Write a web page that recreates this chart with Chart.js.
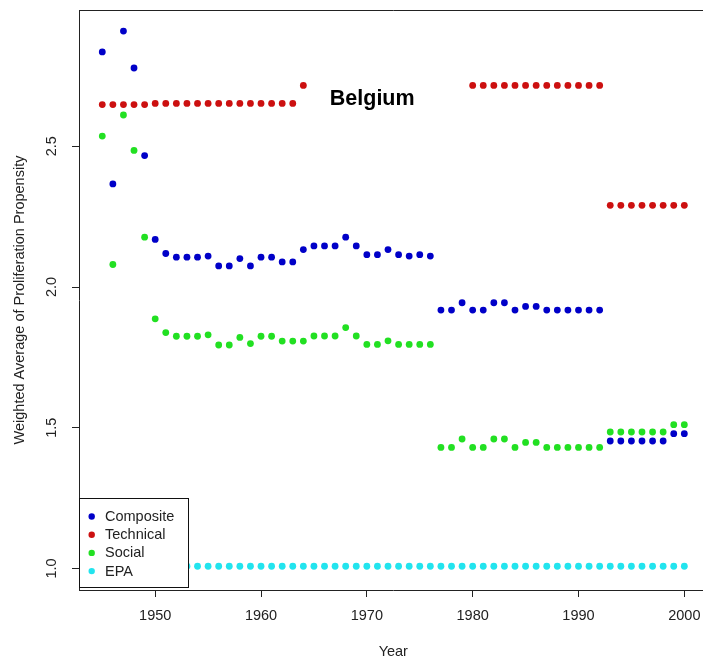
<!DOCTYPE html>
<html>
<head>
<meta charset="utf-8">
<script src="https://cdn.jsdelivr.net/npm/chart.js@4/dist/chart.umd.min.js"></script>
<style>
html,body{margin:0;padding:0;background:#fff;overflow:hidden;width:703px;height:659px;}
#wrap{position:relative;width:711px;height:659px;}
</style>
</head>
<body>
<div id="wrap"><canvas id="c"></canvas></div>
<script>
// ---- data ----
const years = [];
for (let y = 1945; y <= 2000; y++) years.push(y);

const composite = [
  2.835, 2.366, 2.909, 2.778, 2.467,            // 1945-1949
  2.169, 2.119, 2.106, 2.106, 2.106, 2.110, 2.075, 2.075, 2.101, 2.075, // 1950-1959
  2.106, 2.106, 2.089, 2.089, 2.133, 2.146, 2.146, 2.146, 2.177, 2.146, // 1960-1969
  2.115, 2.115, 2.133, 2.115, 2.110, 2.115, 2.110, 1.918, 1.918, 1.944, // 1970-1979
  1.918, 1.918, 1.944, 1.944, 1.918, 1.931, 1.931, 1.918, 1.918, 1.918, // 1980-1989
  1.918, 1.918, 1.918, 1.453, 1.453, 1.453, 1.453, 1.453, 1.453, 1.479, // 1990-1999
  1.479                                          // 2000
];
const technical = [
  2.648, 2.648, 2.648, 2.648, 2.648,
  2.652, 2.652, 2.652, 2.652, 2.652, 2.652, 2.652, 2.652, 2.652, 2.652,
  2.652, 2.652, 2.652, 2.652, 2.716, null, null, null, null, null,
  null, null, null, null, null, null, null, null, null, null,
  2.716, 2.716, 2.716, 2.716, 2.716, 2.716, 2.716, 2.716, 2.716, 2.716,
  2.716, 2.716, 2.716, 2.290, 2.290, 2.290, 2.290, 2.290, 2.290, 2.290,
  2.290
];
const social = [
  2.536, 2.080, 2.611, 2.485, 2.177,
  1.887, 1.838, 1.825, 1.825, 1.825, 1.830, 1.794, 1.794, 1.821, 1.799,
  1.825, 1.825, 1.808, 1.808, 1.808, 1.826, 1.826, 1.826, 1.856, 1.826,
  1.796, 1.796, 1.809, 1.796, 1.796, 1.796, 1.796, 1.430, 1.430, 1.460,
  1.430, 1.430, 1.460, 1.460, 1.430, 1.448, 1.448, 1.430, 1.430, 1.430,
  1.430, 1.430, 1.430, 1.485, 1.485, 1.485, 1.485, 1.485, 1.485, 1.511,
  1.511
];
const epa = years.map(() => 1.008);

const seriesNames = ['Composite', 'Technical', 'Social', 'EPA'];
const seriesColors = ['#0000C8', '#CC1010', '#22E022', '#22E4EE'];
const xTickValues = [1950, 1960, 1970, 1980, 1990, 2000];
const yTickValues = [1.0, 1.5, 2.0, 2.5];
const countryLabel = 'Belgium';
const xTitle = 'Year';
const yTitle = 'Weighted Average of Proliferation Propensity';

const FONT = "'Liberation Sans', Arial, sans-serif";

function pts(arr) {
  return years.map((yr, i) => ({x: yr, y: arr[i]})).filter(p => p.y !== null);
}
const allSeries = [composite, technical, social, epa];

const datasets = allSeries.map((arr, i) => ({
  label: seriesNames[i],
  data: pts(arr),
  backgroundColor: seriesColors[i],
  borderColor: seriesColors[i],
  borderWidth: 0,
  pointRadius: 3.4,
  pointHoverRadius: 3.4,
  showLine: false
}));

const overlay = {
  id: 'overlay',
  afterDatasetsDraw(chart) {
    const ctx = chart.ctx;
    const ca = chart.chartArea;
    const xs = chart.scales.x, ys = chart.scales.y;
    ctx.save();
    // country label
    ctx.fillStyle = '#000';
    ctx.font = "bold 21.5px " + FONT;
    ctx.textAlign = 'left';
    ctx.textBaseline = 'alphabetic';
    ctx.fillText(countryLabel, xs.getPixelForValue(1966.5), ys.getPixelForValue(2.6465));

    // legend box
    const lx = ca.left, ly = 498, lw = 109, lh = 89;
    ctx.fillStyle = '#fff';
    ctx.fillRect(lx, ly, lw, lh);
    ctx.strokeStyle = '#111';
    ctx.lineWidth = 1;
    ctx.strokeRect(Math.round(lx) + 0.5, ly + 0.5, lw, lh);
    ctx.font = "14.5px " + FONT;
    ctx.textBaseline = 'middle';
    seriesNames.forEach((n, i) => {
      const cy = 516.5 + i * 18.2;
      ctx.fillStyle = seriesColors[i];
      ctx.beginPath();
      ctx.arc(91.7, cy, 3.2, 0, Math.PI * 2);
      ctx.fill();
      ctx.fillStyle = '#222';
      ctx.fillText(n, 105, cy + 0.5);
    });

    // frame (top and right edges)
    ctx.strokeStyle = '#222';
    ctx.beginPath();
    ctx.moveTo(ca.left, Math.round(ca.top) + 0.5);
    ctx.lineTo(ca.right, Math.round(ca.top) + 0.5);
    ctx.lineTo(ca.right - 0.5, ca.bottom);
    ctx.stroke();
    ctx.restore();
  }
};

function noPad(s) {
  s.paddingTop = 0; s.paddingBottom = 0; s.paddingLeft = 0; s.paddingRight = 0;
}

new Chart(document.getElementById('c'), {
  type: 'scatter',
  data: { datasets },
  options: {
    responsive: true,
    maintainAspectRatio: false,
    animation: false,
    events: [],
    layout: { padding: { left: 0, right: 1, top: 10, bottom: 0 } },
    plugins: { legend: { display: false }, tooltip: { enabled: false } },
    scales: {
      x: {
        type: 'linear',
        min: 1942.8, max: 2002.2,
        afterFit(s) { s.height = 69; noPad(s); },
        afterBuildTicks(s) { s.ticks = xTickValues.map(v => ({value: v})); },
        grid: { drawOnChartArea: false, drawTicks: true, tickLength: 7, color: '#222', tickColor: '#222' },
        border: { display: true, color: '#222', width: 1 },
        ticks: { autoSkip: false, maxRotation: 0, minRotation: 0, padding: 10, color: '#222',
                 font: { family: FONT, size: 14.5 }, callback: v => String(v) },
        title: { display: true, text: xTitle, color: '#222',
                 font: { family: FONT, size: 14.5, lineHeight: 1 }, padding: { top: 0, bottom: 0 } }
      },
      y: {
        type: 'linear',
        min: 0.9237, max: 2.984,
        afterFit(s) { s.width = 79; noPad(s); },
        afterBuildTicks(s) { s.ticks = yTickValues.map(v => ({value: v})); },
        grid: { drawOnChartArea: false, drawTicks: true, tickLength: 7, color: '#222', tickColor: '#222' },
        border: { display: true, color: '#222', width: 1 },
        ticks: { autoSkip: false, minRotation: 90, maxRotation: 90, crossAlign: 'center', padding: 10,
                 color: '#222', font: { family: FONT, size: 14.5 }, callback: v => v.toFixed(1) },
        title: { display: true, text: yTitle, color: '#222',
                 font: { family: FONT, size: 14.5, lineHeight: 1 }, padding: { top: 13, bottom: 0 } }
      }
    }
  },
  plugins: [overlay]
});
</script>
</body>
</html>
